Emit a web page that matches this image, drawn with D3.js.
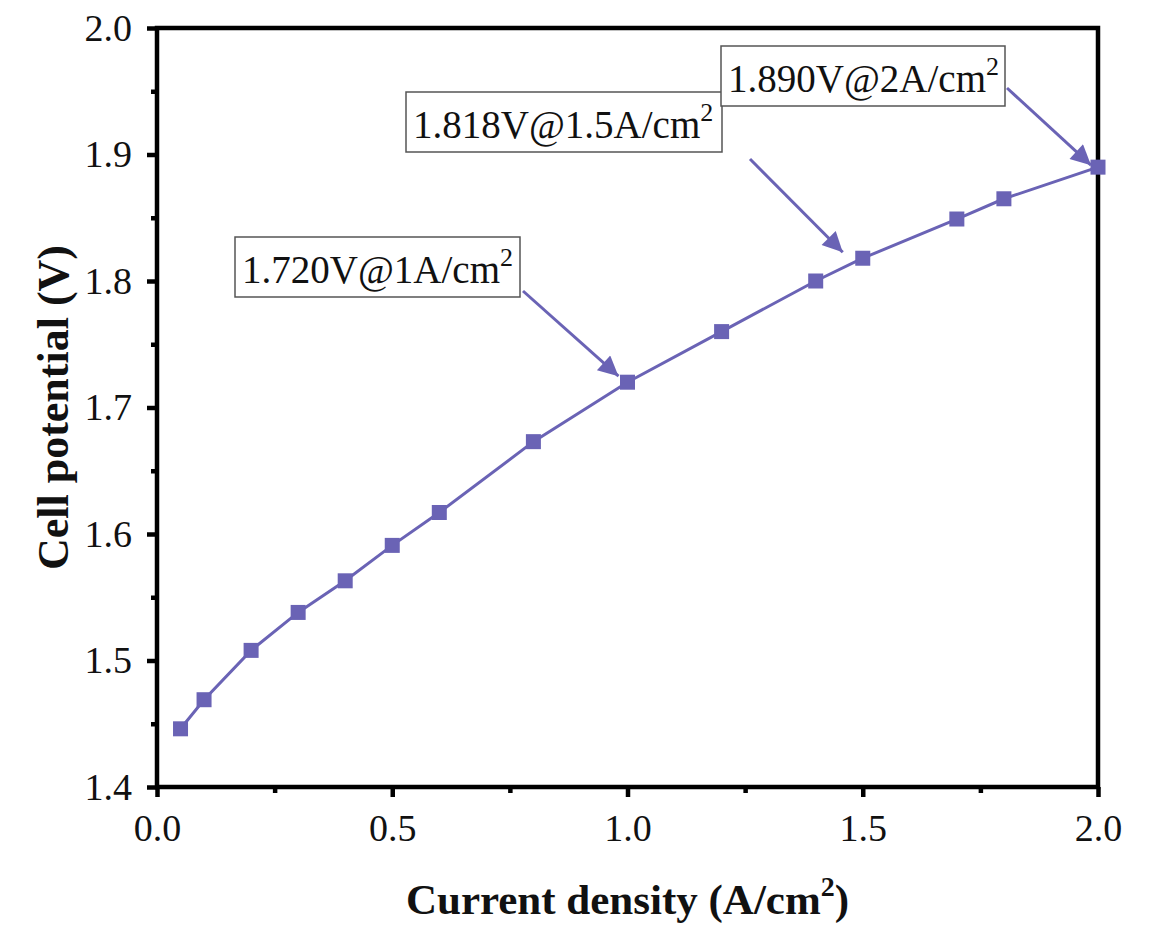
<!DOCTYPE html>
<html>
<head>
<meta charset="utf-8">
<script src="https://cdn.jsdelivr.net/npm/d3@7"></script>
<style>
  body { margin: 0; background: #fff; }
  svg { display: block; font-family: "Liberation Serif", "Times New Roman", serif; }
</style>
</head>
<body>
<svg id="chart" width="1158" height="929"></svg>
<script>
// polarization curve data
const currentDensity = [0.05, 0.1, 0.2, 0.3, 0.4, 0.5, 0.6, 0.8, 1.0, 1.2, 1.4, 1.5, 1.7, 1.8, 2.0];
const cellPotential = [1.446, 1.469, 1.508, 1.538, 1.563, 1.591, 1.617, 1.673, 1.720, 1.760, 1.800, 1.818, 1.849, 1.865, 1.890];

const xTicks = [0.0, 0.5, 1.0, 1.5, 2.0];
const yTicks = [1.4, 1.5, 1.6, 1.7, 1.8, 1.9, 2.0];

// annotation labels: which point they call out
const noteText = ["1.720V@1A/cm", "1.818V@1.5A/cm", "1.890V@2A/cm"];
const noteX = [1.0, 1.5, 2.0];

const color = "#6a63b5";
const margin = { left: 157, right: 60, top: 28, bottom: 142 };
const W = 1158, H = 929;

const svg = d3.select("#chart");

const x = d3.scaleLinear().domain([0, 2]).range([margin.left, W - margin.right]);
const y = d3.scaleLinear().domain([1.4, 2.0]).range([H - margin.bottom, margin.top]);

// minor ticks
const xMinor = d3.range(0.25, 2, 0.5);
const yMinor = d3.range(1.45, 2.0, 0.1);

const gx = svg.append("g").attr("transform", `translate(0,${y(1.4)})`);
gx.call(d3.axisBottom(x).tickValues(xTicks).tickFormat(d3.format(".1f")).tickSize(10).tickPadding(17));
gx.append("g").call(d3.axisBottom(x).tickValues(xMinor).tickFormat("").tickSize(6));

const gy = svg.append("g").attr("transform", `translate(${x(0)},0)`);
gy.call(d3.axisLeft(y).tickValues(yTicks).tickFormat(d3.format(".1f")).tickSize(10).tickPadding(15));
gy.append("g").call(d3.axisLeft(y).tickValues(yMinor).tickFormat("").tickSize(6));

svg.selectAll(".domain").remove();
svg.selectAll(".tick line").attr("stroke", "#000").attr("stroke-width", 4.5);
svg.selectAll(".tick text")
  .attr("font-family", "Liberation Serif")
  .attr("font-size", 38)
  .attr("fill", "#111");

// frame
svg.append("rect")
  .attr("x", x(0)).attr("y", y(2.0))
  .attr("width", x(2) - x(0)).attr("height", y(1.4) - y(2.0))
  .attr("fill", "none").attr("stroke", "#000").attr("stroke-width", 4.5);

// arrow head
svg.append("defs").append("marker")
  .attr("id", "arrow")
  .attr("viewBox", "0 0 10 10")
  .attr("refX", 10).attr("refY", 5)
  .attr("markerWidth", 24).attr("markerHeight", 20)
  .attr("markerUnits", "userSpaceOnUse")
  .attr("orient", "auto")
  .append("path")
  .attr("d", "M0,0 L10,5 L0,10 Z")
  .attr("fill", color);

// line + markers
const pts = currentDensity.map((c, i) => [c, cellPotential[i]]);
const line = d3.line().x(d => x(d[0])).y(d => y(d[1]));

svg.append("path")
  .datum(pts)
  .attr("d", line)
  .attr("fill", "none")
  .attr("stroke", color)
  .attr("stroke-width", 3);

svg.selectAll("rect.pt")
  .data(pts)
  .enter()
  .append("rect")
  .attr("class", "pt")
  .attr("x", d => x(d[0]) - 7.5)
  .attr("y", d => y(d[1]) - 7.5)
  .attr("width", 15)
  .attr("height", 15)
  .attr("fill", color);

// annotation layout (pixel offsets from the target point)
const boxes = [
  { bx: 235, by: 237, bw: 285, arrowFrom: [523, 291], gap: [-9, -6] },
  { bx: 406, by: 92, bw: 316, arrowFrom: [750, 159], gap: [-20, -6] },
  { bx: 721, by: 46, bw: 284, arrowFrom: [1007, 88], gap: [-7, -2] }
];

noteText.forEach((t, i) => {
  const b = boxes[i];
  const xi = currentDensity.indexOf(noteX[i]);
  const tx = x(noteX[i]) + b.gap[0];
  const ty = y(cellPotential[xi]) + b.gap[1];

  svg.append("line")
    .attr("x1", b.arrowFrom[0]).attr("y1", b.arrowFrom[1])
    .attr("x2", tx).attr("y2", ty)
    .attr("stroke", color)
    .attr("stroke-width", 3)
    .attr("marker-end", "url(#arrow)");

  svg.append("rect")
    .attr("x", b.bx).attr("y", b.by)
    .attr("width", b.bw).attr("height", 60)
    .attr("fill", "#fff")
    .attr("stroke", "#555")
    .attr("stroke-width", 1.5);

  const txt = svg.append("text")
    .attr("x", b.bx + 7)
    .attr("y", b.by + 46)
    .attr("font-size", 39)
    .attr("fill", "#111")
    .text(t);
  txt.append("tspan")
    .attr("font-size", 26)
    .attr("dy", -17)
    .text("2");
});

// axis titles
const xt = svg.append("text")
  .attr("x", x(1))
  .attr("y", 914)
  .attr("text-anchor", "middle")
  .attr("font-weight", "bold")
  .attr("font-size", 43)
  .attr("fill", "#111")
  .text("Current density (A/cm");
xt.append("tspan").attr("font-size", 28).attr("dy", -18).text("2");
xt.append("tspan").attr("dy", 18).text(")");

svg.append("text")
  .attr("transform", `translate(68,${y(1.7)}) rotate(-90)`)
  .attr("text-anchor", "middle")
  .attr("font-weight", "bold")
  .attr("font-size", 44)
  .attr("fill", "#111")
  .text("Cell potential (V)");
</script>
</body>
</html>
